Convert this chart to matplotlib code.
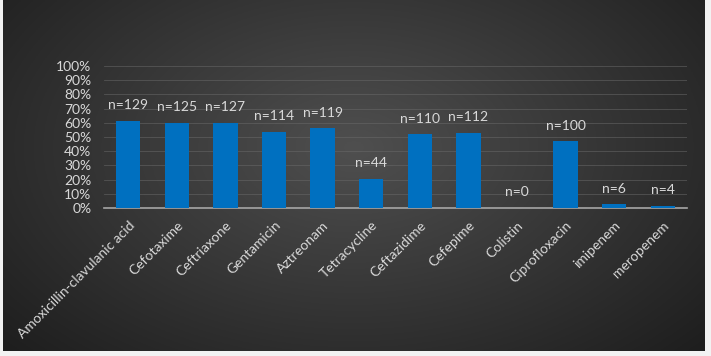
import numpy as np
import matplotlib.pyplot as plt
from matplotlib.ticker import PercentFormatter

drugs = ['Amoxicillin-clavulanic acid', 'Cefotaxime', 'Ceftriaxone', 'Gentamicin',
         'Aztreonam', 'Tetracycline', 'Ceftazidime', 'Cefepime', 'Colistin',
         'Ciprofloxacin', 'imipenem', 'meropenem']
resistance = [61.3, 59.9, 60.1, 53.5, 56.1, 20.4, 51.9, 52.8, 0, 47.0, 2.6, 1.4]
counts = [129, 125, 127, 114, 119, 44, 110, 112, 0, 100, 6, 4]

plt.rcParams['font.family'] = ['Lato', 'DejaVu Sans']
text_col = '#d9d9d9'

fig = plt.figure(figsize=(7.11, 3.56), dpi=100, facecolor='#f2f2f2')

# dark radial gradient background
bg = fig.add_axes([3 / 711, 5 / 356, 702 / 711, 351 / 356])
bg.set_axis_off()
yy, xx = np.mgrid[0:1:200j, 0:1:400j]
r = np.sqrt(((xx - 0.5) / 0.6) ** 2 + ((yy - 0.42) / 0.75) ** 2)
shade = np.clip(0.31 - 0.17 * r, 0.12, 0.32)
bg.imshow(np.dstack([shade, shade, shade]), aspect='auto', extent=[0, 1, 0, 1])

ax = fig.add_axes([104 / 711, 1 - 208 / 356, 583 / 711, 142 / 356])
ax.set_facecolor('none')
x = np.arange(len(drugs))
bars = ax.bar(x, resistance, width=0.5, color='#0070c0', zorder=3)

for xi, v, n in zip(x, resistance, counts):
    ax.annotate(f'n={n}', (xi, v), xytext=(0, 7), textcoords='offset points',
                ha='center', va='bottom', color=text_col, fontsize=10)

ax.set_xlim(-0.5, len(drugs) - 0.5)
ax.set_ylim(0, 100)
ax.set_yticks(np.arange(0, 101, 10))
ax.yaxis.set_major_formatter(PercentFormatter(decimals=0))
ax.grid(axis='y', color='#6a6a6a', linewidth=0.6, alpha=0.6, zorder=0)
ax.set_axisbelow(True)
for s in ['left', 'right', 'top']:
    ax.spines[s].set_visible(False)
ax.spines['bottom'].set_color('#a6a6a6')
ax.spines['bottom'].set_linewidth(1.2)
ax.tick_params(axis='both', length=0, colors=text_col, labelsize=10)
ax.tick_params(axis='y', pad=9)
ax.tick_params(axis='x', pad=8)
ax.set_xticks(x)
ax.set_xticklabels(drugs, rotation=45, ha='right', rotation_mode='anchor')

fig.savefig('out.png', dpi=100, facecolor=fig.get_facecolor())
